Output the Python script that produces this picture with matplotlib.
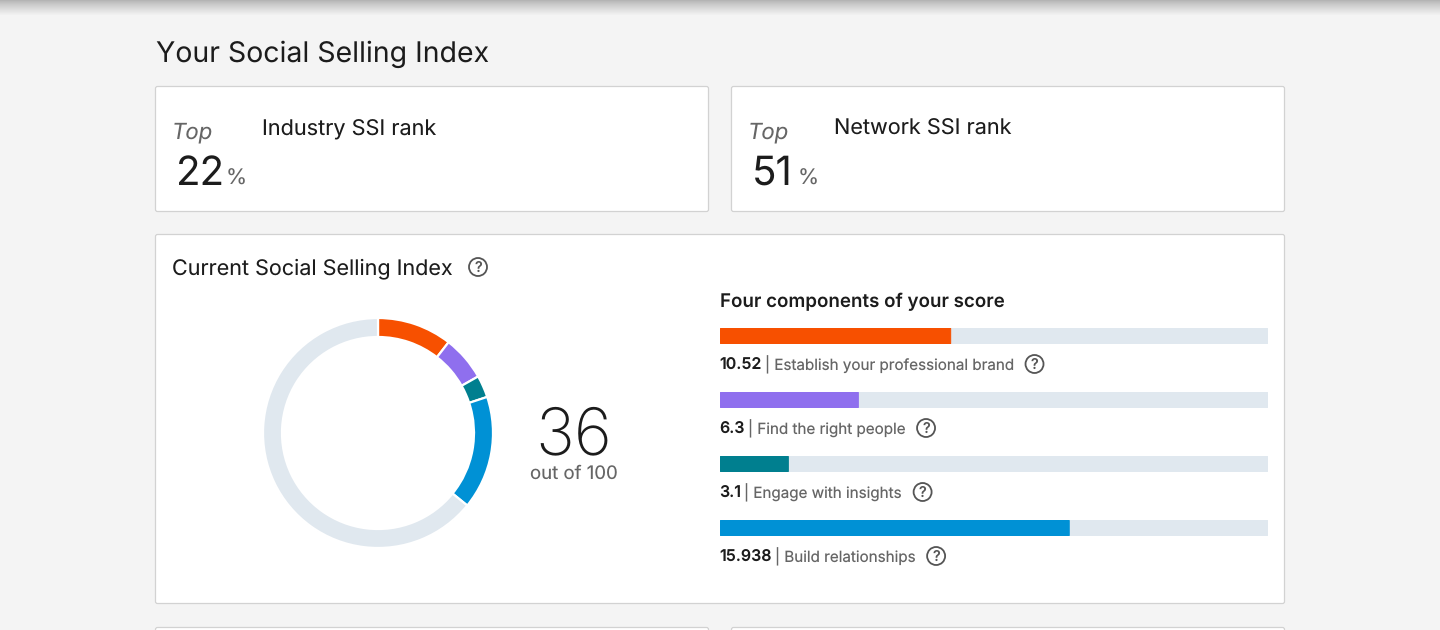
import numpy as np
import matplotlib
matplotlib.use('Agg')
import matplotlib.pyplot as plt
from matplotlib.colors import LinearSegmentedColormap
from matplotlib.patches import FancyBboxPatch, Circle

plt.rcParams['font.family'] = ['Inter', 'DejaVu Sans']
plt.rcParams['text.hinting'] = 'no_hinting'
plt.rcParams['text.hinting_factor'] = 1

W, H = 1440, 630
BG = '#f4f4f4'
DARK = '#1c1c1c'
GREY = '#666666'
TRACK = '#e0e8ef'

components = ['Establish your professional brand', 'Find the right people',
              'Engage with insights', 'Build relationships']
scores = [10.52, 6.3, 3.1, 15.938]
score_labels = ['10.52', '6.3', '3.1', '15.938']
colors = ['#f75000', '#8f6fee', '#007f8f', '#0091d5']
component_max = 25
total_max = 100
total_score = 36
rank_titles = ['Industry SSI rank', 'Network SSI rank']
rank_values = ['22', '51']


def axes_px(fig, left, top, right, bottom):
    return fig.add_axes([left / W, 1 - bottom / H, (right - left) / W, (bottom - top) / H])


def panel(ax, left, top, right, bottom):
    ax.add_patch(FancyBboxPatch((left + 2.5, top + 2.5), right - left - 5, bottom - top - 5,
                                boxstyle='round,pad=2,rounding_size=2',
                                fc='white', ec='#d2d2d2', lw=0.9))


def help_icon(ax, x, y):
    ax.add_patch(Circle((x, y), 9, fc='none', ec='#555555', lw=1.3))
    ax.text(x, y + 0.5, '?', fontsize=10.5, color='#555555', ha='center', va='center', weight='medium')


fig = plt.figure(figsize=(W / 100, H / 100), dpi=100, facecolor=BG)

page = fig.add_axes([0, 0, 1, 1])
page.axis('off')

# shadow under the page header
shade = np.linspace(0, 1, 16) ** 0.8
shadow = np.outer(shade, np.ones(2))
page.imshow(shadow, extent=(0, W, 16, 0), cmap=LinearSegmentedColormap.from_list('s', ['#b4b4b4', BG]),
            aspect='auto', zorder=0)
page.set_xlim(0, W)
page.set_ylim(H, 0)

page.text(156, 54, 'Your Social Selling Index', fontsize=20.5, color=DARK, va='center')

panel(page, 155, 86, 709, 212)
panel(page, 731, 86, 1285, 212)
panel(page, 155, 234, 1285, 604)
panel(page, 155, 627, 709, 660)
panel(page, 731, 627, 1285, 660)

fig.canvas.draw()
renderer = fig.canvas.get_renderer()

for x0, x1, xp, title, val in zip([173, 749], [262, 834], [226, 798], rank_titles, rank_values):
    page.text(x0 - 1, 133, 'Top', fontsize=16, style='italic', color=GREY, va='center')
    page.text(x1, 129.5, title, fontsize=15.6, color=DARK, va='center')
    page.text(x0 + 3, 174, val, fontsize=29, color=DARK, va='center')
    page.text(xp, 179, '%', fontsize=15.5, color=GREY, va='center')

page.text(172, 269, 'Current Social Selling Index', fontsize=15.5, color=DARK, va='center')
help_icon(page, 478, 267)

page.text(574, 437, str(total_score), fontsize=47, color=DARK, ha='center', va='center', weight='light')
page.text(574, 474, f'out of {total_max}', fontsize=13.4, color=GREY, ha='center', va='center')

page.text(720, 302, 'Four components of your score', fontsize=13.5, color=DARK, va='center', weight='semibold')

# donut
donut = axes_px(fig, 378 - 120, 433 - 120, 378 + 120, 433 + 120)
rest = total_max - sum(scores)
donut.pie(scores + [rest], colors=colors + [TRACK], startangle=90, counterclock=False,
          radius=115 / 120, wedgeprops={'width': 19 / 120, 'edgecolor': 'white', 'linewidth': 1.6})
donut.set_xlim(-1, 1)
donut.set_ylim(-1, 1)
donut.patch.set_visible(False)

# component bars, round edge gives the small corner radius
bars = axes_px(fig, 720.5, 328, 1267.5, 536)
ypos = np.arange(len(scores))
bar_style = {'height': 15 / 64, 'linewidth': 0.72, 'joinstyle': 'round', 'clip_on': False, 'snap': False}
bars.barh(ypos, [component_max] * len(scores), color=TRACK, edgecolor=TRACK, **bar_style)
bars.barh(ypos, scores, color=colors, edgecolor=colors, **bar_style)
bars.set_xlim(0, component_max)
bars.set_ylim(3.125, -0.125)
bars.axis('off')

# labels below the bars
for i, (lab, name) in enumerate(zip(score_labels, components)):
    y = 364 + 64 * i
    t1 = page.text(719.5, y + 0.5, lab, fontsize=11.5, color=DARK, va='center', weight='semibold')
    x = t1.get_window_extent(renderer).x1 + 3
    t2 = page.text(x, y + 0.5, '| ' + name, fontsize=10.95, color=GREY, va='center')
    help_icon(page, t2.get_window_extent(renderer).x1 + 20.5, y)

fig.savefig('out.png', dpi=100, facecolor=BG)
